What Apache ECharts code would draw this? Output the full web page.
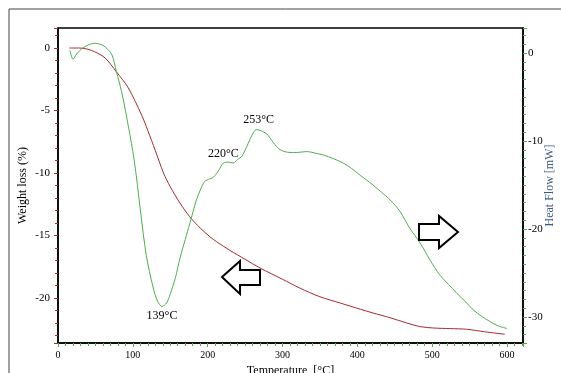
<!DOCTYPE html>
<html>
<head>
<meta charset="utf-8">
<script src="https://cdn.jsdelivr.net/npm/echarts@6/dist/echarts.min.js"></script>
<style>
  html, body { margin: 0; padding: 0; background: #fff; }
  #chart { width: 561px; height: 373px; }
</style>
</head>
<body>
<div id="chart"></div>
<script>
// weight loss (TGA) curve: [temperature °C, weight loss %]
const weightLoss = [
  [15, 0], [29, 0], [40, -0.1], [49, -0.3], [63, -0.8], [78, -1.9], [94, -3.2],
  [112, -5.4], [120, -6.6], [130, -8.2], [141, -10.0], [150, -11.1], [163, -12.4],
  [176, -13.5], [190, -14.4], [203, -15.1], [212, -15.5], [230, -16.2], [250, -16.9],
  [270, -17.6], [300, -18.5], [323, -19.2], [350, -19.9], [377, -20.4], [404, -20.9],
  [421, -21.2], [445, -21.6], [466, -22.0], [485, -22.3], [502, -22.4], [525, -22.45],
  [546, -22.5], [570, -22.7], [597, -22.9]
]
// heat flow (DSC) curve: [temperature °C, heat flow mW]
const heatFlow = [
  [16, 0.3], [20, -0.7], [25, -0.1], [32, 0.5], [40, 0.9], [49, 1.1], [56, 1.0],
  [63, 0.7], [72, -0.2], [78, -2.1], [85, -4.4], [92, -7.4], [100, -11.2], [105, -14.2],
  [110, -17.8], [118, -23.0], [127, -26.6], [133, -28.2], [139, -28.8], [145, -28.4],
  [150, -27.4], [157, -25.5], [163, -23.3], [170, -21.2], [176, -19.4], [185, -16.7],
  [190, -15.6], [196, -14.6], [203, -14.3], [208, -14.1], [215, -13.3], [221, -12.5],
  [228, -12.4], [234, -12.5], [240, -12.1], [246, -11.7], [254, -10.3], [260, -9.2],
  [265, -8.7], [270, -8.8], [279, -9.2], [288, -10.2], [297, -11.0], [310, -11.3],
  [320, -11.3], [332, -11.2], [345, -11.4], [355, -11.6], [368, -12.0], [381, -12.5],
  [392, -13.1], [404, -13.9], [412, -14.4], [421, -15.0], [432, -15.8], [444, -16.7],
  [457, -18.0], [470, -19.9], [484, -21.6], [497, -23.5], [510, -25.2], [522, -26.3],
  [533, -27.3], [545, -28.3], [555, -29.2], [566, -29.9], [577, -30.5], [588, -31.0],
  [600, -31.3]
]
// peak annotations on heat flow curve
const peakLabels = ['139°C', '220°C', '253°C']
const peakCoords = [[139, -28.8], [221, -12.5], [268, -8.7]]
const peakPos = ['bottom', 'top', 'top']

const serif = 'Liberation Serif'
const red = '#a52a2a'
const green = '#4cae4c'

let chart = echarts.init(document.getElementById('chart'))
let option = {
  animation: false,
  grid: {
    left: 58, top: 28, right: 38, bottom: 30,
    outerBoundsMode: 'none', containLabel: false,
    show: true, borderColor: '#000', borderWidth: 1.5
  },
  xAxis: {
    type: 'value',
    min: 0, max: 621.4, interval: 100,
    name: 'Temperature  [°C]',
    nameLocation: 'middle', nameGap: 22, nameMoveOverlap: false,
    nameTextStyle: { fontFamily: serif, fontSize: 12, color: '#000' },
    axisLine: { onZero: false, lineStyle: { color: '#000', width: 1.5 } },
    axisTick: { show: true, length: 4, lineStyle: { color: green } },
    minorTick: { show: true, splitNumber: 10, length: 3, lineStyle: { color: green } },
    axisLabel: { fontFamily: serif, fontSize: 10, color: '#000', margin: 7, showMaxLabel: false },
    splitLine: { show: false }
  },
  yAxis: [
    {
      type: 'value',
      min: -23.6, max: 1.6, splitNumber: 5,
      name: 'Weight loss (%)',
      nameLocation: 'middle', nameGap: 29, nameRotate: 90, nameMoveOverlap: false,
      nameTextStyle: { fontFamily: serif, fontSize: 12, color: '#000' },
      axisLine: { show: true, onZero: false, lineStyle: { color: '#000', width: 1.5 } },
      axisTick: { show: true, length: 4, lineStyle: { color: red } },
      minorTick: { show: true, splitNumber: 5, length: 3, lineStyle: { color: red } },
      axisLabel: {
        fontFamily: serif, fontSize: 11, color: '#000', margin: 8,
        showMinLabel: false, showMaxLabel: false,
        formatter: v => (Math.abs(v % 5) < 1e-6 ? String(v) : '')
      },
      splitLine: { show: false }
    },
    {
      type: 'value',
      min: -32.95, max: 2.84, splitNumber: 4,
      name: 'Heat Flow [mW]',
      nameLocation: 'middle', nameGap: 21, nameRotate: 90, nameMoveOverlap: false,
      nameTextStyle: { fontFamily: serif, fontSize: 12, color: '#3a5a8c' },
      axisLine: { show: true, onZero: false, lineStyle: { color: '#000', width: 1.5 } },
      axisTick: { show: true, length: 4, lineStyle: { color: green } },
      minorTick: { show: true, splitNumber: 10, length: 3, lineStyle: { color: green } },
      axisLabel: {
        fontFamily: serif, fontSize: 11, color: '#000', margin: 5,
        showMinLabel: false, showMaxLabel: false,
        formatter: v => (Math.abs(v % 10) < 1e-6 ? String(v) : '')
      },
      splitLine: { show: false }
    }
  ],
  series: [
    {
      name: 'Weight loss',
      type: 'line',
      yAxisIndex: 0,
      data: weightLoss,
      smooth: 0.3,
      symbol: 'none',
      lineStyle: { color: red, width: 1 }
    },
    {
      name: 'Heat Flow',
      type: 'line',
      yAxisIndex: 1,
      data: heatFlow,
      smooth: 0.3,
      symbol: 'none',
      lineStyle: { color: green, width: 1 },
      markPoint: {
        symbol: 'circle',
        symbolSize: 1,
        itemStyle: { color: 'rgba(0,0,0,0)' },
        data: peakLabels.map((t, i) => ({
          coord: peakCoords[i],
          label: {
            show: true, formatter: t, position: peakPos[i], distance: 3,
            fontFamily: serif, fontSize: 12, color: '#000'
          }
        }))
      }
    }
  ],
  graphic: [
    // outer frame
    { type: 'rect', shape: { x: 9, y: 9, width: 600, height: 400 }, style: { fill: 'none', stroke: '#444', lineWidth: 1 }, silent: true },
    // arrow pointing to the left axis
    {
      type: 'polygon',
      shape: { points: [[222, 277], [240, 261], [240, 270], [260, 270], [260, 285], [240, 285], [240, 294]] },
      style: { fill: '#fff', stroke: '#000', lineWidth: 2 }, z: 100
    },
    // arrow pointing to the right axis
    {
      type: 'polygon',
      shape: { points: [[419, 224], [439, 224], [439, 216], [458, 232], [439, 248], [439, 240], [419, 240]] },
      style: { fill: '#fff', stroke: '#000', lineWidth: 2 }, z: 100
    }
  ]
}
chart.setOption(option)
</script>
</body>
</html>
